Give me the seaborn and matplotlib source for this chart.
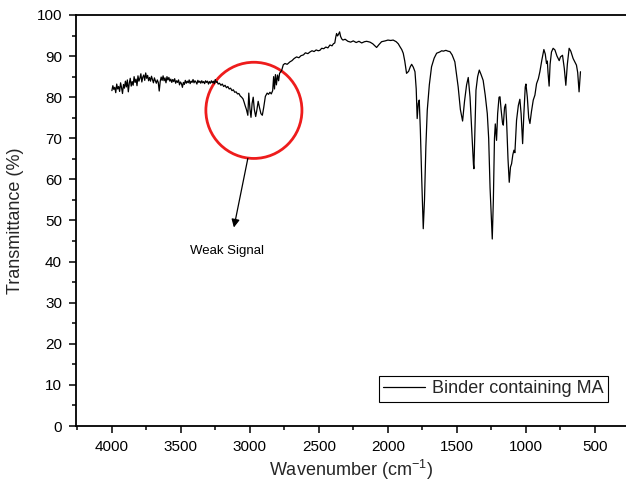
import numpy as np
import pandas as pd
import matplotlib
matplotlib.use("Agg")
import matplotlib.pyplot as plt
from matplotlib.patches import Ellipse
from matplotlib.ticker import MultipleLocator
import seaborn as sns

# ---- data ----
wavenumber = [
    4000, 3993, 3986, 3979, 3972, 3965, 3958, 3951, 3944, 3937, 3930, 3923, 3916, 3909, 3902,
    3895, 3888, 3881, 3874, 3867, 3860, 3853, 3846, 3839, 3832, 3825, 3818, 3811, 3804, 3797,
    3790, 3783, 3776, 3769, 3762, 3755, 3748, 3741, 3734, 3727, 3720, 3713, 3706, 3699, 3692,
    3685, 3678, 3671, 3664, 3657, 3650, 3643, 3636, 3629, 3622, 3615, 3608, 3601, 3594, 3587,
    3580, 3573, 3566, 3559, 3552, 3545, 3538, 3531, 3524, 3517, 3510, 3503, 3496, 3489, 3482,
    3475, 3468, 3461, 3454, 3447, 3440, 3433, 3426, 3419, 3412, 3405, 3398, 3391, 3384, 3377,
    3370, 3363, 3356, 3349, 3342, 3335, 3328, 3321, 3314, 3307, 3300, 3293, 3286, 3279, 3272,
    3265, 3258, 3251, 3244, 3237, 3230, 3220, 3210, 3200, 3190, 3180, 3170, 3160, 3150, 3140,
    3130, 3120, 3110, 3100, 3090, 3080, 3070, 3060, 3050, 3042, 3035, 3025, 3015, 3008,
    3000, 2992, 2984, 2976, 2968, 2958, 2950, 2940, 2930, 2920, 2910, 2900, 2888, 2875, 2865,
    2855, 2845, 2835, 2828, 2822, 2815, 2808, 2800, 2792, 2785, 2770, 2758, 2746, 2730, 2710,
    2695, 2680, 2662, 2645, 2630, 2612, 2598, 2580, 2565, 2550, 2535, 2520, 2505, 2493, 2480,
    2465, 2450, 2435, 2420, 2405, 2395, 2385, 2378, 2372, 2365, 2358, 2350, 2343, 2335, 2326,
    2310, 2290, 2270, 2251, 2230, 2210, 2190, 2170,
    2154, 2130, 2110, 2095, 2082, 2065, 2046, 2020, 2000, 1980, 1962, 1940, 1925, 1913, 1900,
    1889, 1878, 1865, 1850, 1838, 1828, 1816, 1804, 1795, 1788, 1780, 1773, 1765, 1755, 1744,
    1735, 1725, 1715, 1700, 1684, 1665, 1647, 1625, 1610, 1599, 1580, 1565, 1551, 1535, 1520,
    1515, 1505, 1491, 1475, 1459, 1445, 1430, 1418, 1405, 1390, 1380, 1377, 1370, 1362, 1350,
    1338, 1325, 1310, 1295, 1280, 1270, 1260, 1250, 1244, 1236, 1228, 1222, 1213, 1205, 1195,
    1188, 1180, 1170, 1164, 1155, 1147, 1140, 1130, 1121, 1112, 1104, 1095, 1087, 1080, 1068,
    1055, 1044, 1035, 1024, 1015, 1005, 1000, 990, 980, 971, 960, 947, 935, 923, 910,
    899, 885, 870, 860, 851, 845, 840, 832, 825, 815, 803, 790, 775, 759, 750,
    735, 722, 711, 700, 687, 675, 658, 645, 634, 625, 615, 605,
]
transmittance = [
    81.6, 82.8, 81.9, 82.4, 81.1, 83.2, 82.0, 82.6, 81.4, 83.5, 82.3, 80.9, 83.1, 82.2, 83.9,
    82.5, 84.2, 81.3, 83.4, 84.6, 82.7, 83.8, 82.9, 85.0, 83.6, 84.4, 82.8, 85.2, 83.9, 84.6,
    85.7, 83.7, 84.9, 85.4, 84.1, 85.9, 84.6, 85.3, 84.0, 84.8, 83.9, 85.1, 84.3, 83.5, 84.7,
    84.0, 83.4, 84.2, 83.6, 81.5, 83.8, 84.9, 84.1, 85.2, 84.0, 84.7, 83.5, 85.0, 84.2, 84.8,
    83.9, 84.4, 83.6, 84.3, 83.8, 84.5, 83.4, 84.0, 83.6, 84.2, 83.0, 83.7, 83.3, 82.4, 83.6,
    83.1, 84.1, 83.4, 83.9, 83.5, 84.2, 83.3, 83.9, 83.6, 84.3, 83.5, 84.0, 83.7, 83.2, 84.1,
    83.6, 83.9, 83.4, 84.0, 83.5, 83.8, 83.3, 84.0, 83.6, 83.9, 83.2, 83.8, 83.4, 84.0, 83.5,
    83.9, 83.3, 84.3, 83.6, 83.8, 83.2, 83.4, 82.9, 83.2, 82.6, 82.9, 82.3, 82.6, 82.0, 82.2,
    81.6, 81.8, 81.2, 81.3, 80.8, 80.9, 80.3, 80.0, 79.6, 78.8, 78.0, 77.0, 75.6, 81.0,
    77.2, 75.1, 78.5, 80.0, 77.0, 75.3, 76.8, 79.0, 77.4, 76.0, 75.6, 77.5, 80.2, 81.0, 80.7,
    81.2, 80.8, 81.6, 85.0, 82.0, 85.5, 83.0, 85.4, 84.0, 85.8, 86.5, 87.9, 88.2, 88.0, 88.6,
    88.9, 89.4, 89.8, 89.6, 90.1, 90.3, 90.8, 90.6, 91.0, 91.3, 91.1, 91.5, 91.3, 91.4, 91.9,
    91.8, 92.2, 92.0, 92.7, 92.5, 93.0, 93.2, 94.6, 95.5, 94.9, 95.3, 95.9, 94.8, 94.2, 93.9,
    94.1, 93.6, 93.4, 93.7, 93.3, 93.6, 93.2, 93.5,
    93.6, 93.4, 93.0, 92.5, 92.1, 92.8, 93.5, 93.7, 93.9, 93.8, 93.9, 93.5, 93.0, 92.3, 91.6,
    90.7, 88.8, 85.8, 86.3, 87.4, 88.0, 87.3, 86.2, 82.0, 74.8, 78.5, 79.3, 72.0, 60.0, 48.0,
    55.0, 68.0, 76.8, 83.0, 87.4, 89.5, 90.7, 91.0, 91.3, 91.2, 91.4, 91.2, 91.1, 90.3, 89.0,
    88.6, 86.0, 82.5, 77.0, 74.2, 79.0, 83.0, 84.8, 80.0, 70.0, 63.5, 62.6, 72.0, 81.7, 85.0,
    86.6, 85.5, 84.1, 80.5, 76.0, 70.0, 58.0, 50.0, 45.5, 55.0, 70.0, 73.5, 69.5, 76.0, 80.0,
    80.1, 77.0, 73.8, 73.2, 77.5, 78.3, 74.0, 65.0, 59.3, 63.0, 63.8, 66.0, 67.1, 66.5, 74.4,
    78.0, 79.5, 76.0, 68.7, 76.0, 82.5, 83.2, 80.0, 75.0, 73.6, 76.5, 79.3, 80.5, 83.3, 84.5,
    86.2, 89.0, 91.6, 90.5, 88.2, 88.8, 86.0, 82.7, 88.0, 91.0, 91.9, 91.5, 90.0, 88.9, 89.8,
    90.2, 87.0, 82.9, 88.0, 91.9, 91.2, 89.4, 88.5, 87.8, 86.0, 81.3, 86.2,
]
series_name = "Binder containing MA"
x_ticks = [4000, 3500, 3000, 2500, 2000, 1500, 1000, 500]
y_ticks = [0, 10, 20, 30, 40, 50, 60, 70, 80, 90, 100]
annotation_text = "Weak Signal"

df = pd.DataFrame({"Wavenumber": wavenumber, "Transmittance": transmittance,
                   "series": series_name})

sns.set_theme(style="ticks")
plt.rcParams["font.family"] = ["Liberation Sans", "DejaVu Sans"]
plt.rcParams["mathtext.fontset"] = "custom"
plt.rcParams["mathtext.rm"] = "Liberation Sans"
plt.rcParams["mathtext.it"] = "Liberation Sans:italic"
plt.rcParams["mathtext.bf"] = "Liberation Sans:bold"

fig = plt.figure(figsize=(6.26, 4.92), dpi=100)
ax = fig.add_axes([76 / 626, 66 / 492, 550 / 626, 411 / 492])

sns.lineplot(data=df, x="Wavenumber", y="Transmittance", hue="series",
             palette=["black"], linewidth=0.9, ax=ax, sort=False, estimator=None)

ax.set_xlim(4260, 275)
ax.set_ylim(0, 100)
ax.set_xticks(x_ticks)
ax.set_yticks(y_ticks)
ax.xaxis.set_minor_locator(MultipleLocator(250))
ax.yaxis.set_minor_locator(MultipleLocator(5))
ax.tick_params(axis="both", which="major", direction="out", length=5, width=1.1,
               labelsize=11, color="black", labelcolor="black", pad=5)
ax.tick_params(axis="both", which="minor", direction="out", length=3, width=1.1,
               color="black")
for s in ["left", "bottom", "top"]:
    ax.spines[s].set_visible(True)
    ax.spines[s].set_linewidth(1.3)
    ax.spines[s].set_color("black")
ax.spines["right"].set_visible(False)

ax.set_xlabel("Wavenumber (cm$^{-1}$)", fontsize=13, labelpad=3)
ax.set_ylabel("Transmittance (%)", fontsize=13, labelpad=9)

leg = ax.legend(loc="lower right", bbox_to_anchor=(532 / 550, 24 / 411),
                borderaxespad=0, fontsize=13, frameon=True, fancybox=False,
                edgecolor="black", framealpha=1, handlelength=2.3,
                borderpad=0.25, handletextpad=0.4)
leg.get_frame().set_linewidth(0.8)

# annotation: red circle, arrow, text
circle = Ellipse((2971, 76.8), width=696, height=23.4, fill=False,
                 edgecolor="#ee1c1c", linewidth=2)
ax.add_patch(circle)
ax.annotate("", xy=(3116, 48.3), xytext=(3015, 65.1),
            arrowprops=dict(arrowstyle="-|>", color="black", lw=0.9,
                            mutation_scale=12, shrinkA=0, shrinkB=0))
ax.text(3167, 42.7, annotation_text, fontsize=9.5, ha="center", va="center",
        color="black")

fig.savefig("out.png", dpi=100)
